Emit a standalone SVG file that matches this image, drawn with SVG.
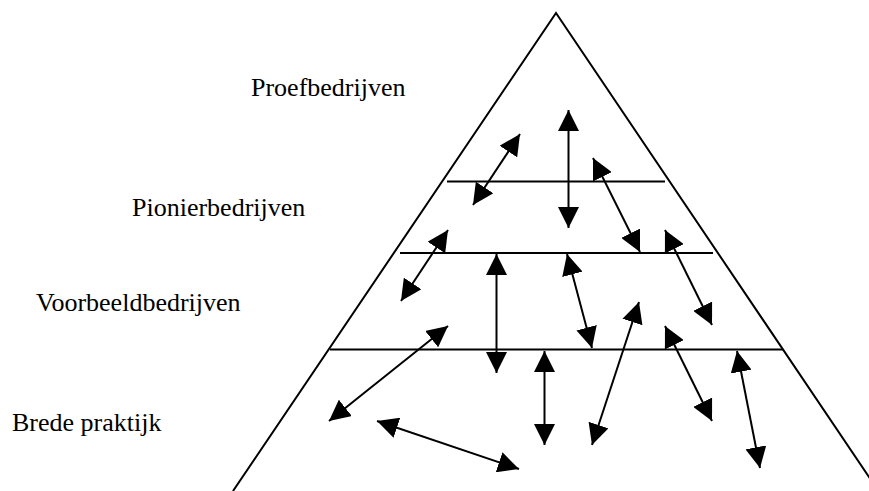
<svg xmlns="http://www.w3.org/2000/svg" width="869" height="491" viewBox="0 0 869 491">
  <style>
    .edge { stroke: #000; stroke-width: 2; fill: none; }
    .arr { stroke: #000; stroke-width: 2; fill: none; marker-start: url(#head); marker-end: url(#head); }
    .lbl { font-family: "Liberation Serif", "Times New Roman", serif; font-size: 26px; fill: #000; }
  </style>
  <defs>
    <marker id="head" markerUnits="userSpaceOnUse" markerWidth="21" markerHeight="21" viewBox="0 0 20 20" refX="20" refY="10" orient="auto-start-reverse">
      <path d="M0,0 L20,10 L0,20 z" fill="#000"/>
    </marker>
  </defs>
  <rect width="869" height="491" fill="#fff"/>
  <g id="pyramid">
    <polyline class="edge" points="233,491 556,13 871,480"/>
    <line class="edge" x1="447" y1="181.5" x2="665" y2="181.5"/>
    <line class="edge" x1="400" y1="253" x2="713" y2="253"/>
    <line class="edge" x1="330" y1="349.5" x2="783" y2="349.5"/>
  </g>
  <g id="labels">
    <g id="proefbedrijven"><text class="lbl" x="251" y="96">Proefbedrijven</text></g>
    <g id="pionierbedrijven"><text class="lbl" x="132" y="216">Pionierbedrijven</text></g>
    <g id="voorbeeldbedrijven"><text class="lbl" x="36" y="311">Voorbeeldbedrijven</text></g>
    <g id="brede-praktijk"><text class="lbl" x="12" y="431">Brede praktijk</text></g>
  </g>
  <g id="connectors">
    <line class="arr" x1="520" y1="134" x2="473" y2="205"/>
    <line class="arr" x1="568.5" y1="110" x2="568.5" y2="228"/>
    <line class="arr" x1="593" y1="158" x2="640" y2="252"/>
    <line class="arr" x1="448" y1="230" x2="401" y2="301"/>
    <line class="arr" x1="496.5" y1="254" x2="496.5" y2="373"/>
    <line class="arr" x1="567" y1="254" x2="592" y2="348"/>
    <line class="arr" x1="665" y1="230" x2="712" y2="325"/>
    <line class="arr" x1="639" y1="302" x2="592" y2="445"/>
    <line class="arr" x1="448" y1="326" x2="329" y2="421"/>
    <line class="arr" x1="665" y1="326" x2="712" y2="421"/>
    <line class="arr" x1="544.5" y1="351" x2="544.5" y2="445"/>
    <line class="arr" x1="377" y1="421" x2="519" y2="469"/>
    <line class="arr" x1="737" y1="351" x2="760" y2="468"/>
  </g>
</svg>
